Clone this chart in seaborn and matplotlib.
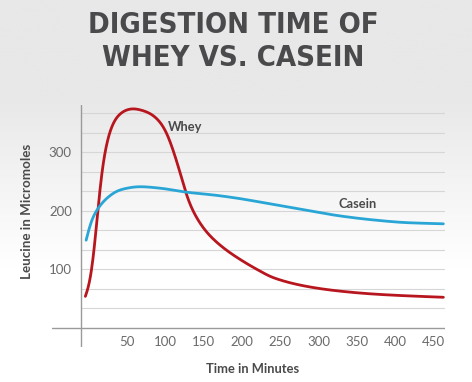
import numpy as np
import pandas as pd
import matplotlib
matplotlib.use("Agg")
import matplotlib.pyplot as plt
import seaborn as sns

# values
whey_t = [-4, 2, 6, 11, 15, 20, 28, 37, 50, 58, 67, 80, 93, 102, 111, 120, 128, 137,
          154, 176, 198, 220, 241, 285, 328, 372, 415, 463]
whey_v = [54, 71, 110, 179, 247, 293, 338, 361, 373, 375, 373, 367, 353, 334, 302, 264,
          226, 198, 164, 137, 117, 100, 86, 71, 63, 58, 55, 52.5]
casein_t = [-3, 2, 11, 24, 41, 67, 93, 128, 165, 198, 241, 285, 328, 372, 415, 463]
casein_v = [150, 179, 202, 222, 236, 241.5, 239, 232, 227, 221, 211, 201, 191.5, 184.6, 180, 178]
x_ticks = [50, 100, 150, 200, 250, 300, 350, 400, 450]
y_ticks = [100, 200, 300]

whey_col = "#b8161f"
casein_col = "#2aa6d6"
text_col = "#4a4a4c"

sns.set_theme(style="white")
plt.rcParams['font.family'] = ['Lato', 'DejaVu Sans']

fig = plt.figure(figsize=(4.72, 3.82), dpi=100)

# background gradient: light gray at top fading to white
bg = fig.add_axes([0, 0, 1, 1], zorder=-10)
grad = np.linspace(0, 1, 256).reshape(-1, 1)
grad = np.clip((grad - 0.25) / 0.45, 0, 1)
bg.imshow(grad, aspect="auto", cmap=matplotlib.colors.LinearSegmentedColormap.from_list(
    "g", ["#e8e8e8", "#ffffff"]), extent=[0, 1, 0, 1], origin="upper")
bg.axis("off")

ax = fig.add_axes([0.111, 0.0908, 0.8316, 0.6343])
ax.set_facecolor("none")


def pchip(t, v, n=1000, sigma=4.5):
    # shape preserving cubic through the read points, then a light gaussian blur
    t = np.asarray(t, float)
    v = np.asarray(v, float)
    h = np.diff(t)
    d = np.diff(v) / h
    m = np.zeros_like(v)
    for i in range(1, len(v) - 1):
        if d[i - 1] * d[i] > 0:
            w1 = 2 * h[i] + h[i - 1]
            w2 = h[i] + 2 * h[i - 1]
            m[i] = (w1 + w2) / (w1 / d[i - 1] + w2 / d[i])
    m[0] = d[0]
    m[-1] = d[-1]
    tt = np.linspace(t[0], t[-1], n)
    idx = np.clip(np.searchsorted(t, tt) - 1, 0, len(t) - 2)
    s = (tt - t[idx]) / h[idx]
    h00 = 2 * s**3 - 3 * s**2 + 1
    h10 = s**3 - 2 * s**2 + s
    h01 = -2 * s**3 + 3 * s**2
    h11 = s**3 - s**2
    vv = h00 * v[idx] + h10 * h[idx] * m[idx] + h01 * v[idx + 1] + h11 * h[idx] * m[idx + 1]
    step = tt[1] - tt[0]
    k = int(3 * sigma / step)
    ker = np.exp(-0.5 * (np.arange(-k, k + 1) * step / sigma) ** 2)
    ker /= ker.sum()
    pad = np.pad(vv, k, mode="reflect", reflect_type="odd")
    vv = np.convolve(pad, ker, mode="same")[k:-k]
    return tt, vv


wt, wv = pchip(whey_t, whey_v)
ct, cv = pchip(casein_t, casein_v)
df = pd.concat([
    pd.DataFrame({"t": wt, "v": wv, "s": "Whey"}),
    pd.DataFrame({"t": ct, "v": cv, "s": "Casein"}),
])
sns.lineplot(data=df, x="t", y="v", hue="s", palette={"Whey": whey_col, "Casein": casein_col},
             linewidth=2, legend=False, ax=ax, zorder=3)

ax.set_xlim(-47, 465)
ax.set_ylim(-33, 381)
for s in ax.spines.values():
    s.set_visible(False)

# grid lines every third of 100
for g in np.arange(1, 12) * 100 / 3:
    ax.hlines(g, -10, 465, color="#d6d6d6", lw=0.8, zorder=1)
ax.axhline(0, color="#9a9a9a", lw=1, zorder=2)
ax.axvline(-10, color="#9a9a9a", lw=1, zorder=2)

ax.set_xticks(x_ticks)
ax.set_yticks(y_ticks)
ax.tick_params(length=0, labelsize=9.5, labelcolor="#6a6a6a")
ax.tick_params(axis="x", pad=-8)
ax.tick_params(axis="y", pad=-14)
ax.set_xlabel("")
ax.set_ylabel("")

fig.text(0.536, 0.034, "Time in Minutes", ha="center", va="center", fontsize=9.3,
         fontweight="bold", color=text_col)
fig.text(0.057, 0.446, "Leucine in Micromoles", ha="center", va="center", rotation=90,
         fontsize=9.6, fontweight="bold", color=text_col)

ax.text(126, 344, "Whey", fontsize=9.3, fontweight="bold", color=text_col, va="center", ha="center")
ax.text(351, 212, "Casein", fontsize=9.3, fontweight="bold", color=text_col, va="center", ha="center")

title_kw = dict(ha="center", va="center", fontsize=21, fontweight="bold", color=text_col,
                family=["DejaVu Sans"], fontstretch="condensed")
fig.text(0.494, 0.935, "DIGESTION TIME OF", **title_kw)
fig.text(0.494, 0.848, "WHEY VS. CASEIN", **title_kw)

fig.savefig("out.png", dpi=100)
